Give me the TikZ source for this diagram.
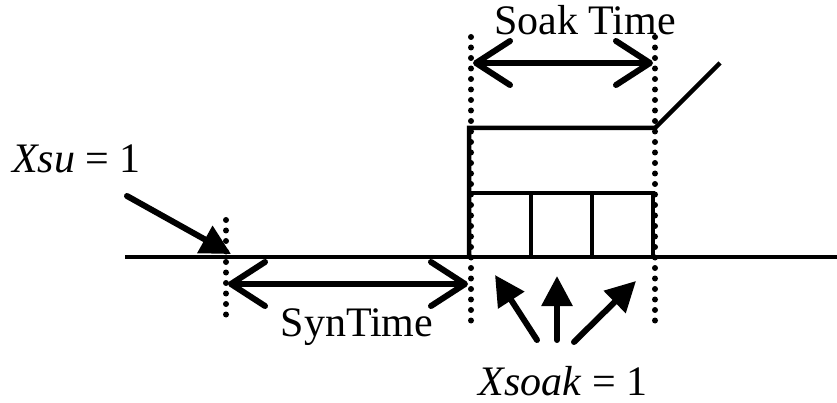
\documentclass[tikz,border=0pt]{standalone}
\usepackage{fontspec}
\setmainfont{Liberation Serif}
\usetikzlibrary{arrows.meta}
\begin{document}
\begin{tikzpicture}[x=1pt,y=-1pt,
  lbl/.style={font=\fontsize{42}{48}\selectfont, inner sep=0pt, anchor=base},
  axis/.style={line width=4.5pt},
  pulse/.style={line width=4.5pt, line join=miter},
  cell/.style={line width=3.5pt},
  guide/.style={line width=6pt, line cap=round, dash pattern=on 0pt off 10.5pt},
  span/.style={line width=6pt, line cap=round, {Straight Barb[length=34pt,width=44pt,line width=6pt,round]}-{Straight Barb[length=34pt,width=44pt,line width=6pt,round]}},
  pointer/.style={line width=6pt, line cap=round, -{Triangle[length=30pt,width=30pt]}}]
\useasboundingbox (0,0) rectangle (837,403);
% key points
\coordinate (ax0) at (125,257);
\coordinate (ax1) at (837,257);
\coordinate (ga0) at (226,220);
\coordinate (ga1) at (226,322);
\coordinate (gb0) at (471,37);
\coordinate (gb1) at (471,322);
\coordinate (gc0) at (655,37);
\coordinate (gc1) at (655,322);
\coordinate (p0) at (469,257);
\coordinate (p1) at (469,128);
\coordinate (p2) at (655,128);
\coordinate (p3) at (720,63);
\coordinate (b0) at (469,193);
\coordinate (b1) at (653,257);
\coordinate (d1a) at (531,193);
\coordinate (d1b) at (531,257);
\coordinate (d2a) at (592,193);
\coordinate (d2b) at (592,257);
\coordinate (sa0) at (473,63);
\coordinate (sa1) at (653,63);
\coordinate (ya0) at (228,284);
\coordinate (ya1) at (468,284);
\coordinate (xs0) at (127,196);
\coordinate (xs1) at (231,254);
\coordinate (k1s) at (537,340);
\coordinate (k1e) at (495,275);
\coordinate (k2s) at (557,340);
\coordinate (k2e) at (557,276);
\coordinate (k3s) at (574,342);
\coordinate (k3e) at (636,281);
% texts
\node[lbl] (soak) at (585,35) {Soak Time};
\node[lbl] (syn) at (357,336) {SynTime};
\node[lbl, anchor=base west] (xsu) at (12,173) {\textit{Xsu} = 1};
\node[lbl] (xsoak) at (563,395) {\textit{Xsoak} = 1};
% axis
\draw[axis] (ax0) -- (ax1);
% guides
\draw[guide] (ga0) -- (ga1);
\draw[guide] (gb0) -- (gb1);
\draw[guide] (gc0) -- (gc1);
% pulse
\draw[pulse] (p0) -- (p1) -- (p2) -- (p3);
\draw[cell] (b0) rectangle (b1);
\draw[cell] (d1a) -- (d1b);
\draw[cell] (d2a) -- (d2b);
% spans
\draw[span] (sa0) -- (sa1);
\draw[span] (ya0) -- (ya1);
% pointers
\draw[pointer] (xs0) -- (xs1);
\draw[pointer] (k1s) -- (k1e);
\draw[pointer] (k2s) -- (k2e);
\draw[pointer] (k3s) -- (k3e);
\end{tikzpicture}
\end{document}
